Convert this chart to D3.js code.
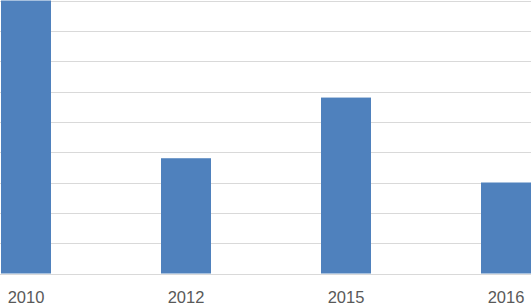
<!DOCTYPE html>
<html>
<head>
<meta charset="utf-8">
<script src="https://cdn.jsdelivr.net/npm/d3@7"></script>
<style>
  body { margin: 0; background: #fff; }
  svg { display: block; }
</style>
</head>
<body>
<div id="chart"></div>
<script>
// data
var years = ["2010", "2012", "2015", "2016"];
var values = [9, 3.8, 5.8, 3];
var gridTicks = [0, 1, 2, 3, 4, 5, 6, 7, 8, 9];

var svgWidth = 531;
var svgHeight = 304;
var baseY = 273.5;

var svg = d3.select("#chart")
  .append("svg")
  .attr("width", svgWidth)
  .attr("height", svgHeight);

// the plot is cropped on both sides, so the band range runs past the svg
var x = d3.scaleBand()
  .domain(years)
  .range([-54, 586])
  .paddingInner(110 / 160)
  .paddingOuter(55 / 160);

var y = d3.scaleLinear()
  .domain([0, 9])
  .range([baseY, 0.5]);

// gridlines
svg.append("g")
  .selectAll("line")
  .data(gridTicks)
  .enter()
  .append("line")
  .attr("x1", 0)
  .attr("x2", svgWidth)
  .attr("y1", d => Math.round(y(d)) + 0.5)
  .attr("y2", d => Math.round(y(d)) + 0.5)
  .attr("stroke", "#d9d9d9")
  .attr("stroke-width", 1);

// bars
svg.append("g")
  .selectAll("rect")
  .data(years)
  .enter()
  .append("rect")
  .attr("x", d => x(d))
  .attr("width", x.bandwidth())
  .attr("y", (d, i) => y(values[i]))
  .attr("height", (d, i) => baseY - y(values[i]))
  .attr("fill", "#4f81bd");

// x axis labels
var xAxis = d3.axisBottom(x).tickSize(0).tickPadding(0);
var axisG = svg.append("g")
  .attr("transform", `translate(0, ${baseY})`)
  .call(xAxis);

axisG.select(".domain").remove();
axisG.selectAll("text")
  .attr("dy", "29")
  .attr("fill", "#595959")
  .style("font-family", "'Liberation Sans', Arial, sans-serif")
  .style("font-size", "16.5px");
</script>
</body>
</html>
